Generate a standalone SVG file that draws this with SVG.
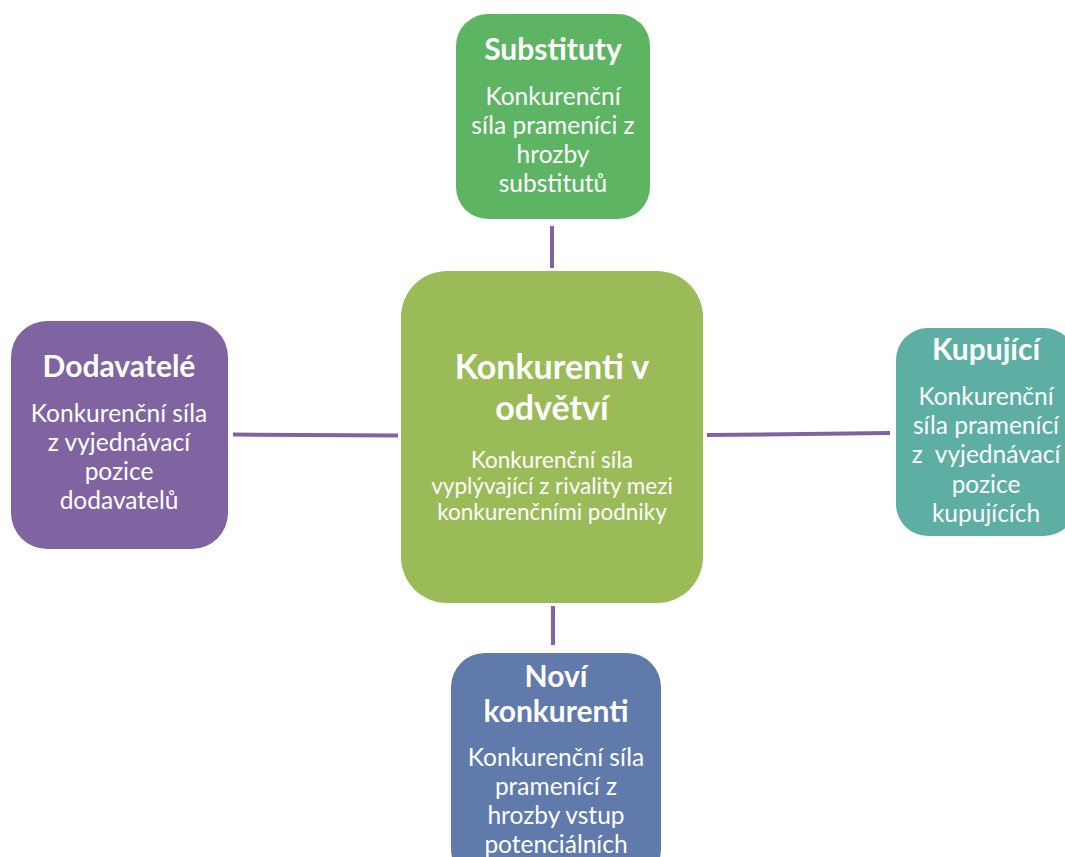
<svg xmlns="http://www.w3.org/2000/svg" width="1065" height="857" viewBox="0 0 1065 857">
<style>
text{font-family:Lato,"Open Sans","Liberation Sans",sans-serif;fill:#fff;text-anchor:middle}
.t{font-weight:bold;font-size:30px}
.b{font-size:24.5px}
.c line{stroke:#8064a2;stroke-width:4}
</style>
<rect width="1065" height="857" fill="#fff"/>
<g class="c" id="connectors">
<line x1="552" y1="226" x2="552" y2="268"/>
<line x1="233" y1="434.5" x2="398" y2="435.5"/>
<line x1="707" y1="435" x2="890" y2="433"/>
<line x1="553" y1="606" x2="553" y2="645"/>
</g>
<g id="substituty">
<rect x="456" y="14" width="194" height="205" rx="32" fill="#5db563"/>
<text class="t" x="553" y="60">Substituty</text>
<text class="b" x="553" y="105">Konkurenční</text>
<text class="b" x="553" y="134">síla prameníci z</text>
<text class="b" x="553" y="163">hrozby</text>
<text class="b" x="553" y="192">substitutů</text>
</g>
<g id="konkurenti">
<rect x="401" y="271" width="302" height="332" rx="46" fill="#9bbb59"/>
<text class="t" x="552" y="379" style="font-size:34px">Konkurenti v</text>
<text class="t" x="552" y="420" style="font-size:34px">odvětví</text>
<text class="b" x="552" y="468" style="font-size:22.5px">Konkurenční síla</text>
<text class="b" x="552" y="494" style="font-size:22.5px">vyplývající z rivality mezi</text>
<text class="b" x="552" y="520" style="font-size:22.5px">konkurenčními podniky</text>
</g>
<g id="dodavatele">
<rect x="11" y="321" width="217" height="228" rx="36" fill="#8064a2"/>
<text class="t" x="119" y="377">Dodavatelé</text>
<text class="b" x="119" y="422">Konkurenční síla</text>
<text class="b" x="119" y="451">z vyjednávací</text>
<text class="b" x="119" y="480">pozice</text>
<text class="b" x="119" y="509">dodavatelů</text>
</g>
<g id="kupujici">
<rect x="896" y="328" width="180" height="208" rx="32" fill="#5daea3"/>
<text class="t" x="986" y="360">Kupující</text>
<text class="b" x="986" y="405">Konkurenční</text>
<text class="b" x="986" y="434">síla pramenící</text>
<text class="b" x="986" y="463" xml:space="preserve">z  vyjednávací</text>
<text class="b" x="986" y="493">pozice</text>
<text class="b" x="986" y="522">kupujících</text>
</g>
<g id="novi">
<rect x="451" y="653" width="210" height="230" rx="34" fill="#5f7aab"/>
<text class="t" x="556" y="687">Noví</text>
<text class="t" x="556" y="722">konkurenti</text>
<text class="b" x="556" y="766">Konkurenční síla</text>
<text class="b" x="556" y="795">pramenící z</text>
<text class="b" x="556" y="824">hrozby vstup</text>
<text class="b" x="556" y="853">potenciálních</text>
</g>
</svg>
